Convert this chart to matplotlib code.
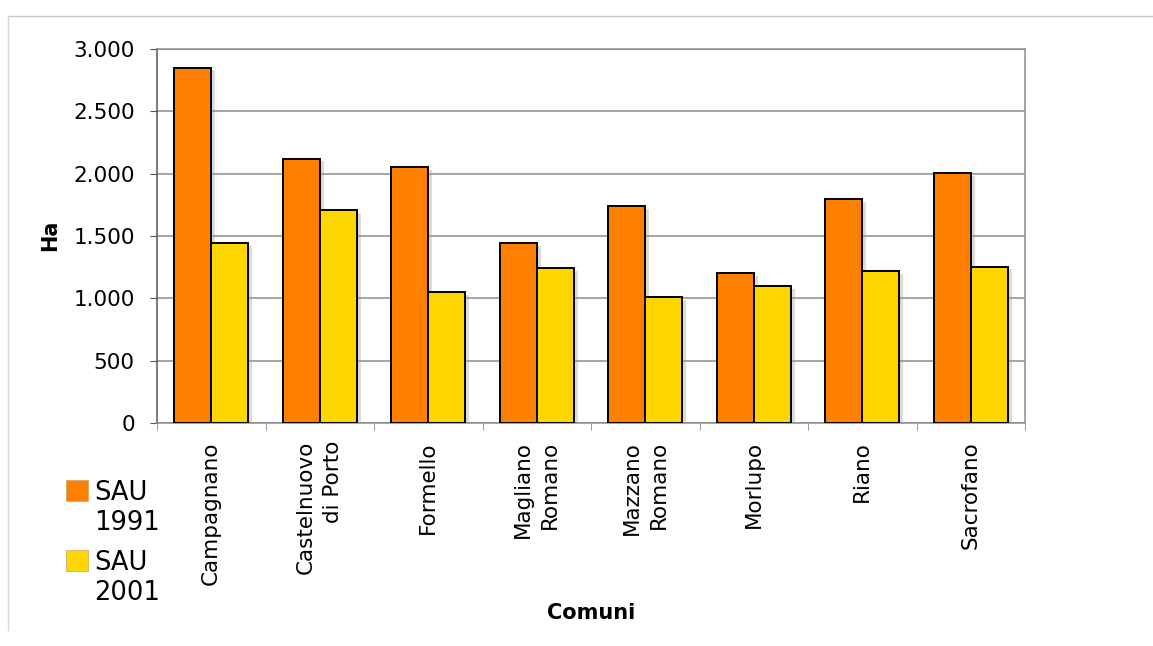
import numpy as np
import matplotlib
matplotlib.use("Agg")
import matplotlib.pyplot as plt
from matplotlib import patheffects
from matplotlib.ticker import FixedLocator, FuncFormatter
from matplotlib.lines import Line2D
from matplotlib.patches import Rectangle

# dati
comuni = ["Campagnano", "Castelnuovo\ndi Porto", "Formello", "Magliano\nRomano",
          "Mazzano\nRomano", "Morlupo", "Riano", "Sacrofano"]
sau_1991 = [2850, 2120, 2050, 1440, 1740, 1200, 1795, 2005]
sau_2001 = [1440, 1710, 1050, 1240, 1010, 1100, 1220, 1255]
serie = ["SAU\n1991", "SAU\n2001"]
colori = ["#FF8000", "#FFD700"]

fig = plt.figure(figsize=(11.53, 6.46), dpi=100)
W, H = 1153, 646

# cornice esterna leggera
fig.add_artist(Line2D([8 / W, 1], [1 - 16 / H, 1 - 16 / H], color="#c8c8c8", lw=1.0))
fig.add_artist(Line2D([8 / W, 8 / W], [1 - 16 / H, 1 - 630 / H], color="#d8d8d8", lw=1.0))

ax = fig.add_axes([157 / W, 1 - 423 / H, (1025 - 157) / W, (423 - 49) / H])

x = np.arange(len(comuni))
w = 0.34
ombra = [patheffects.SimplePatchShadow(offset=(3, -2), shadow_rgbFace="#999999", alpha=0.35),
         patheffects.Normal()]
b1 = ax.bar(x - w / 2, sau_1991, w, color=colori[0], edgecolor="black", lw=1.4, zorder=3)
b2 = ax.bar(x + w / 2, sau_2001, w, color=colori[1], edgecolor="black", lw=1.4, zorder=3)
for b in list(b1) + list(b2):
    b.set_path_effects(ombra)

ax.set_xlim(-0.5, len(comuni) - 0.5)
ax.set_ylim(0, 3000)
ax.set_yticks(np.arange(0, 3001, 500))
ax.yaxis.set_major_formatter(FuncFormatter(lambda v, p: f"{int(v):,}".replace(",", ".")))
ax.grid(axis="y", color="#8c8c8c", lw=1.1, zorder=0)

ax.set_xticks(x)
ax.set_xticklabels(comuni, rotation=90, va="top", ha="center", multialignment="right",
                   linespacing=1.45)
ax.xaxis.set_minor_locator(FixedLocator(np.arange(-0.5, len(comuni), 1.0)))
ax.tick_params(axis="x", which="major", length=0, pad=13, labelsize=15.5)
ax.tick_params(axis="x", which="minor", length=5, color="#8c8c8c", direction="out")
ax.tick_params(axis="y", length=5, color="#555555", pad=11, labelsize=15.5)

for s in ax.spines.values():
    s.set_color("#8c8c8c")
    s.set_linewidth(1.1)
ax.spines["left"].set_color("#555555")

fig.text(50 / W, 1 - 235 / H, "Ha", rotation=90, ha="center", va="center",
         fontsize=15, fontweight="bold")
fig.text(591 / W, 1 - 613 / H, "Comuni", ha="center", va="center",
         fontsize=15, fontweight="bold")

# legenda disegnata a mano: quadrato allineato alla prima riga
for i, (lab, col) in enumerate(zip(serie, colori)):
    top = 480 + i * 70
    fig.add_artist(Rectangle((66 / W, 1 - (top + 21) / H), 22 / W, 21 / H,
                             transform=fig.transFigure, facecolor=col,
                             edgecolor="#d0a060", lw=0.5))
    fig.text(94 / W, 1 - top / H, lab, ha="left", va="top",
             fontsize=18.5, linespacing=1.22)

fig.savefig("out.png", dpi=100, facecolor="white")
